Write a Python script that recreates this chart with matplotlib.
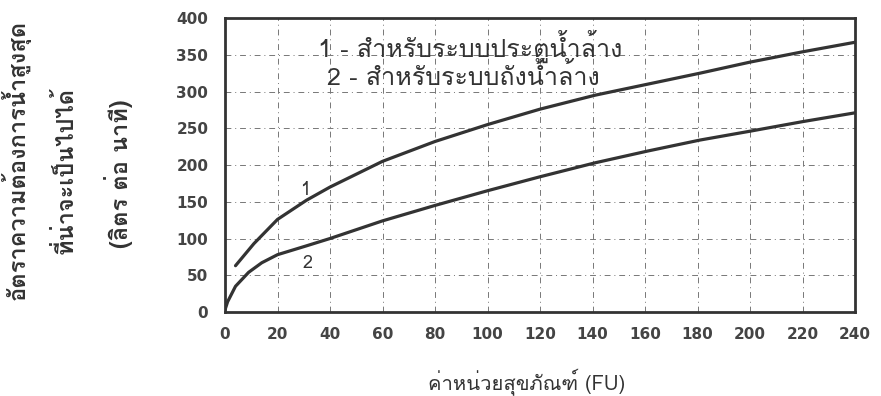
import matplotlib
matplotlib.use("Agg")
from matplotlib import pyplot as plt
from matplotlib import font_manager
from matplotlib.ft2font import FT2Font

# values
fu_1 = [4, 11, 20, 31, 40, 48, 60, 80, 100, 120, 141, 161, 181, 200, 220, 240]
flow_1 = [63, 93, 126, 152, 170, 184, 205, 232, 255, 276, 295, 310, 325, 340, 354, 367]
fu_2 = [0, 1, 4, 9, 14, 20, 31, 40, 60, 80, 100, 120, 141, 161, 181, 200, 220, 240]
flow_2 = [3, 14, 35, 54, 67, 78, 90, 100, 124, 145, 165, 184, 203, 219, 234, 246, 259, 271]

x_ticks = [0, 20, 40, 60, 80, 100, 120, 140, 160, 180, 200, 220, 240]
y_ticks = [0, 50, 100, 150, 200, 250, 300, 350, 400]

legend_lines = ['1 - สำหรับระบบประตูน้ำล้าง', '2 - สำหรับระบบถังน้ำล้าง']
ylabel_lines = ['อัตราความต้องการน้ำสูงสุด', 'ที่น่าจะเป็นไปได้', '(ลิตร ต่อ นาที)']
xlabel = 'ค่าหน่วยสุขภัณฑ์ (FU)'


def find_thai_font(preferred=('Loma', 'Garuda', 'Norasi')):
    found = set()
    for f in font_manager.fontManager.ttflist:
        try:
            if 0x0E01 in FT2Font(f.fname).get_charmap():
                found.add(f.name)
        except Exception:
            pass
    for name in preferred:
        if name in found:
            return [name]
    return sorted(found)[:1]


thai = find_thai_font()
plt.rcParams['font.family'] = thai + ['DejaVu Sans']
ink = '#333333'

fig = plt.figure(figsize=(8.81, 3.96), dpi=100)
ax = fig.add_axes([0.2554, 0.2121, 0.7151, 0.7424])

ax.plot(fu_1, flow_1, color=ink, lw=2.3, solid_capstyle='round', solid_joinstyle='round')
ax.plot(fu_2, flow_2, color=ink, lw=2.3, solid_capstyle='round', solid_joinstyle='round')

ax.set_xlim(0, 240)
ax.set_ylim(0, 400)
ax.set_xticks(x_ticks)
ax.set_yticks(y_ticks)
ax.tick_params(length=0, colors='#444444')
ax.tick_params(axis='x', pad=11)
ax.tick_params(axis='y', pad=12)
for lab in ax.get_xticklabels() + ax.get_yticklabels():
    lab.set_family('DejaVu Sans')
    lab.set_fontsize(11)
    lab.set_fontweight('bold')
ax.grid(True, ls=(0, (6, 4, 1, 4)), lw=0.7, color='#777777')
for s in ax.spines.values():
    s.set_linewidth(2)
    s.set_color(ink)

ax.text(0.147, 0.905, legend_lines[0], transform=ax.transAxes, fontsize=18,
        color=ink, va='center')
ax.text(0.162, 0.80, legend_lines[1], transform=ax.transAxes, fontsize=18,
        color=ink, va='center')
ax.text(30.5, 166, '1', fontsize=13, color=ink, ha='center', va='center')
ax.text(31.5, 67, '2', fontsize=13, color=ink, ha='center', va='center')

for xpos, ypos, line in zip([0.018, 0.074, 0.134], [0.596, 0.57, 0.56], ylabel_lines):
    fig.text(xpos, ypos, line, rotation=90, ha='center', va='center',
             fontsize=17, fontweight='bold', color=ink)
fig.text(0.598, 0.035, xlabel, ha='center', va='center', fontsize=14.5, color=ink)

fig.savefig('out.png', dpi=100)
